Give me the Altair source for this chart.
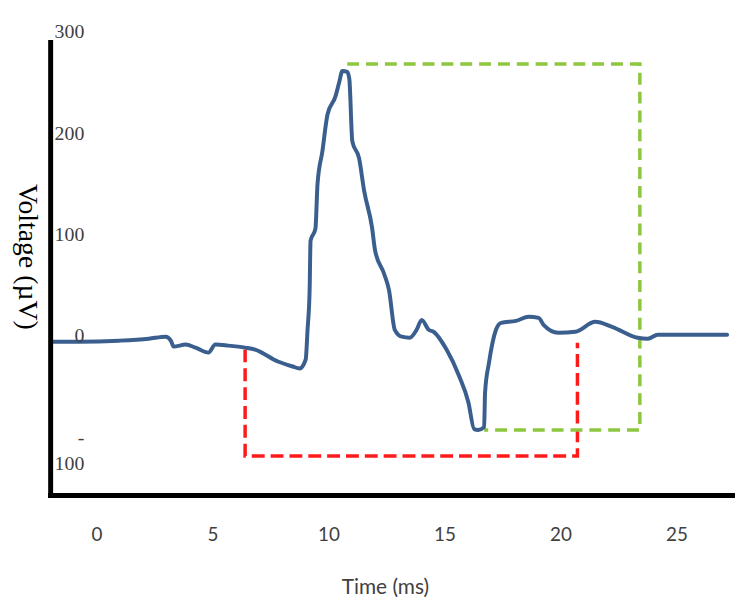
import altair as alt
import pandas as pd

# ---- data ----
time_ms = [-1.97, -0.73, 0.98, 2.26, 2.99, 3.21, 3.33, 3.85, 4.27, 4.83, 5.13, 5.68,
           6.41, 6.84, 7.82, 8.46, 8.76, 9.02, 9.10, 9.19, 9.23, 9.44, 9.53, 9.74,
           9.96, 10.30, 10.47, 10.60, 10.81, 10.90, 11.03, 11.32, 11.54, 11.88, 12.01,
           12.39, 12.61, 12.86, 13.16, 13.50, 13.80, 14.02, 14.32, 14.53, 15.09, 15.64,
           16.03, 16.28, 16.45, 16.71, 16.75, 16.92, 17.22, 17.44, 18.08, 18.63, 19.06,
           19.27, 19.91, 20.64, 21.50, 22.22, 23.33, 23.76, 24.19, 25.77, 27.18]
voltage_uv = [-4.3, -4.3, -3.3, -1.4, 0.6, -3.3, -9.2, -7.2, -10.2, -15.1, -7.2, -8.2,
              -10.2, -12.1, -23.9, -28.8, -30.7, -21.9, 7.4, 46.6, 95.3, 107.2, 151.3, 183.6,
              219.8, 237.4, 252.1, 262.8, 261.9, 255.0, 193.3, 176.7, 144.4, 108.2, 85.7,
              63.2, 46.6, 7.4, 0.6, -0.4, 7.4, 17.2, 7.4, 5.5, -12.1, -38.6,
              -64.0, -90.6, -91.4, -88.6, -54.4, -24.9, 7.4, 14.3, 16.2, 20.2, 19.2,
              12.3, 4.5, 5.5, 15.3, 10.4, -0.4, -1.4, 2.5, 2.5, 2.5]

green_x = [10.81, 23.42, 23.42, 16.71]
green_y = [269.7, 269.7, -91.4, -91.4]
red_x = [6.41, 6.41, 20.73, 20.73]
red_y = [-12.0, -117.0, -117.0, -5.3]

x_ticks = [0, 5, 10, 15, 20, 25]
y_ticks = [300, 200, 100, 0, -100]
y_tick_labels = ["300", "200", "100", "0", "-\n100"]

x_min, x_max = -1.97, 27.52
y_min, y_max = -156, 300
y_axis_top = 291

# ---- tables ----
sig = pd.DataFrame({"t": time_ms, "v": voltage_uv})
green = pd.DataFrame({"t": green_x, "v": green_y, "i": range(len(green_x))})
red = pd.DataFrame({"t": red_x, "v": red_y, "i": range(len(red_x))})
ylab = pd.DataFrame({"v": y_ticks, "lab": y_tick_labels})
xaxis_df = pd.DataFrame({"t": [x_min], "t2": [x_max], "v": [y_min]})
yaxis_df = pd.DataFrame({"t": [x_min], "v": [y_min], "v2": [y_axis_top]})

xs = alt.Scale(domain=[x_min, x_max], nice=False, zero=False)
ys = alt.Scale(domain=[y_min, y_max], nice=False, zero=False)

x_axis = alt.Axis(values=x_ticks, grid=False, domain=False, ticks=False, tickSize=0,
                  labelFont="Lato", labelFontSize=19, labelColor="#404040",
                  labelPadding=30, title="Time (ms)", titleFont="Lato",
                  titleFontSize=21, titleFontWeight="normal", titleColor="#404040",
                  titleX=337, titleY=93, titleAlign="center", titleBaseline="middle")
y_axis = alt.Axis(labels=False, grid=False, domain=False, ticks=False,
                  title="Voltage (µV)", titleAngle=90, titleX=-24, titleY=225,
                  titleFont="Liberation Serif", titleFontSize=28,
                  titleFontWeight="normal", titleColor="#000000",
                  titleAlign="center", titleBaseline="middle")

X = alt.X("t:Q", scale=xs, axis=x_axis, title="Time (ms)")
Y = alt.Y("v:Q", scale=ys, axis=y_axis, title="Voltage (µV)")

line = alt.Chart(sig).mark_line(color="#3A5F8E", strokeWidth=4, interpolate="monotone",
                                strokeJoin="round", strokeCap="round").encode(x=X, y=Y)

green_box = alt.Chart(green).mark_line(color="#8DC63F", strokeWidth=3.5,
                                       strokeDash=[12, 7]).encode(x=X, y=Y, order="i:Q")

red_box = alt.Chart(red).mark_line(color="#FF1A1A", strokeWidth=3.5,
                                   strokeDash=[13, 6]).encode(x=X, y=Y, order="i:Q")

x_line = alt.Chart(xaxis_df).mark_rule(color="black", strokeWidth=5,
                                       strokeCap="square").encode(x=X, x2="t2:Q", y=Y)
y_line = alt.Chart(yaxis_df).mark_rule(color="black", strokeWidth=5,
                                       strokeCap="square").encode(x=X, y=Y, y2="v2:Q")

y_labels = alt.Chart(ylab).mark_text(align="right", baseline="top", dy=-11,
                                     lineBreak="\n", lineHeight=27,
                                     font="Liberation Serif", fontSize=20,
                                     color="#404040").encode(
    x=alt.value(34), y=Y, text="lab:N")

chart = alt.layer(red_box, green_box, line, y_line, x_line, y_labels).properties(
    width=690, height=466,
    padding={"left": 43, "top": 23, "right": 0, "bottom": 103},
    autosize=alt.AutoSizeParams(type="none"),
    background="white",
).configure_view(stroke=None)

chart.save("out.html", embed_options={"renderer": "svg", "actions": False})
